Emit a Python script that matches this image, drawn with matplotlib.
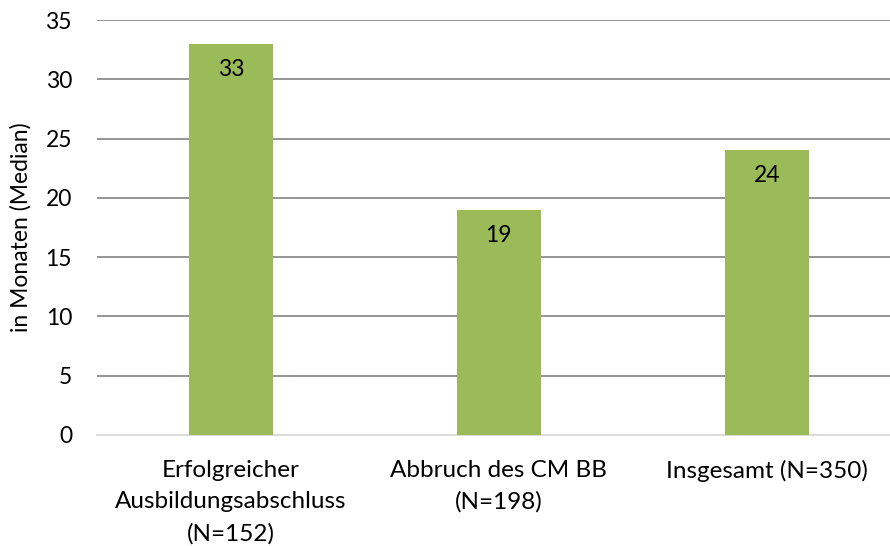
import matplotlib
matplotlib.use("Agg")
import matplotlib.pyplot as plt

categories = ["Erfolgreicher\nAusbildungsabschluss\n(N=152)", "Abbruch des CM BB\n(N=198)", "Insgesamt (N=350)"]
values = [33, 19, 24]
yticks = [0, 5, 10, 15, 20, 25, 30, 35]
ylabel = "in Monaten (Median)"

plt.rcParams['font.family'] = ['Lato', 'DejaVu Sans']

fig = plt.figure(figsize=(8.9, 5.46), dpi=100)
ax = fig.add_axes([0.109, 0.2033, 0.903, 0.7600])

x = range(len(categories))
bars = ax.bar(x, values, width=0.313, color="#9BBB59", zorder=3)
for xi, v in zip(x, values):
    ax.text(xi, v - 1.25, str(v), ha="center", va="top", fontsize=16.5, color="#000000", zorder=4)

ax.set_xlim(-0.5, len(categories) - 0.5)
ax.set_ylim(0, 35)
ax.set_yticks(yticks)
ax.set_yticklabels([str(t) for t in yticks], fontsize=16.5)
ax.set_xticks(list(x))
ax.set_xticklabels(categories, fontsize=17.5, linespacing=1.6)
ax.tick_params(axis="y", length=0, pad=18)
ax.tick_params(axis="x", length=0, pad=18)
ax.set_ylabel(ylabel, fontsize=16.5, labelpad=10)

ax.yaxis.grid(True, color="#8C8C8C", linewidth=1.3, zorder=0)
for g in ax.get_ygridlines()[:1]:
    g.set_visible(False)
for s in ["top", "right", "left"]:
    ax.spines[s].set_visible(False)
ax.spines["bottom"].set_color("#D9D9D9")
ax.spines["bottom"].set_linewidth(1.3)

fig.savefig("out.png", dpi=100)
